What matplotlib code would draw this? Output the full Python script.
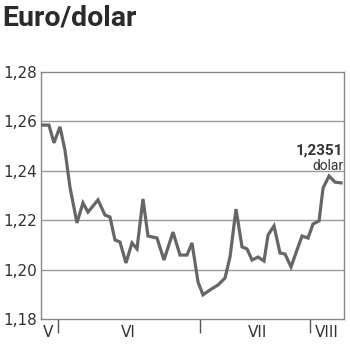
import matplotlib.pyplot as plt

# kurs euro/dolar (pozycje na osi x w dniach od poczatku wykresu)
dni = [1, 8, 13, 19, 24, 29, 36, 42, 47, 57, 64, 69, 74, 79, 85, 91, 96, 102, 107,
       116, 123, 132, 139, 146, 151, 157, 162, 169, 177, 184, 189, 195, 201, 206,
       211, 217, 223, 227, 233, 239, 244, 250, 256, 261, 267, 272, 278, 282, 288,
       294, 300]
kurs = [1.2585, 1.2585, 1.2513, 1.2578, 1.2484, 1.2334, 1.2189, 1.2270, 1.2233,
        1.2282, 1.2221, 1.2213, 1.2120, 1.2112, 1.2027, 1.2108, 1.2084, 1.2286,
        1.2136, 1.2128, 1.2039, 1.2152, 1.2059, 1.2059, 1.2108, 1.1950, 1.1898,
        1.1918, 1.1938, 1.1966, 1.2051, 1.2245, 1.2092, 1.2084, 1.2039, 1.2051,
        1.2035, 1.2140, 1.2177, 1.2067, 1.2063, 1.2011, 1.2080, 1.2136, 1.2128,
        1.2185, 1.2197, 1.2330, 1.2379, 1.2354, 1.2351]
granice = [17, 159, 269]
miesiace = ['V', 'VI', 'VII', 'VIII']
miesiace_x = [7, 87, 217, 286]
yticks = [1.18, 1.20, 1.22, 1.24, 1.26, 1.28]

plt.rcParams['font.family'] = ['Roboto', 'DejaVu Sans']

fig = plt.figure(figsize=(3.5, 3.51), dpi=100)
ax = fig.add_axes([0.117, 0.091, 0.866, 0.704])

for y in yticks[1:-1]:
    ax.axhline(y, color='#9a9a9a', lw=1.0, zorder=1)
ax.plot(dni, kurs, color='#666666', lw=2.3, solid_joinstyle='miter', zorder=3)

ax.set_xlim(0, 303)
ax.set_ylim(1.18, 1.28)
ax.set_yticks(yticks)
ax.set_yticklabels([f'{v:.2f}'.replace('.', ',') for v in yticks],
                   fontsize=11, color='#333333', family=['DejaVu Sans'])
ax.tick_params(axis='y', length=0, pad=3)
ax.set_xticks(granice)
ax.set_xticklabels([])
ax.tick_params(axis='x', direction='out', length=10, width=1, color='#555555')
for s in ax.spines.values():
    s.set_color('#888888')
    s.set_linewidth(1)

for m, x in zip(miesiace, miesiace_x):
    ax.text(x, -0.025, m, transform=ax.get_xaxis_transform(), ha='center', va='top',
            fontsize=11, color='#333333', family=['DejaVu Sans'])

ax.text(302, 1.2452, '1,2351', ha='right', va='bottom', fontsize=11,
        fontweight='bold', color='#333333')
ax.text(302, 1.2448, 'dolar', ha='right', va='top', fontsize=10, color='#333333')

fig.text(0.006, 0.948, 'Euro/dolar', fontsize=20.5, fontweight='bold', color='#2b2b2b',
         ha='left', va='center')

fig.savefig('out.png', dpi=100)
